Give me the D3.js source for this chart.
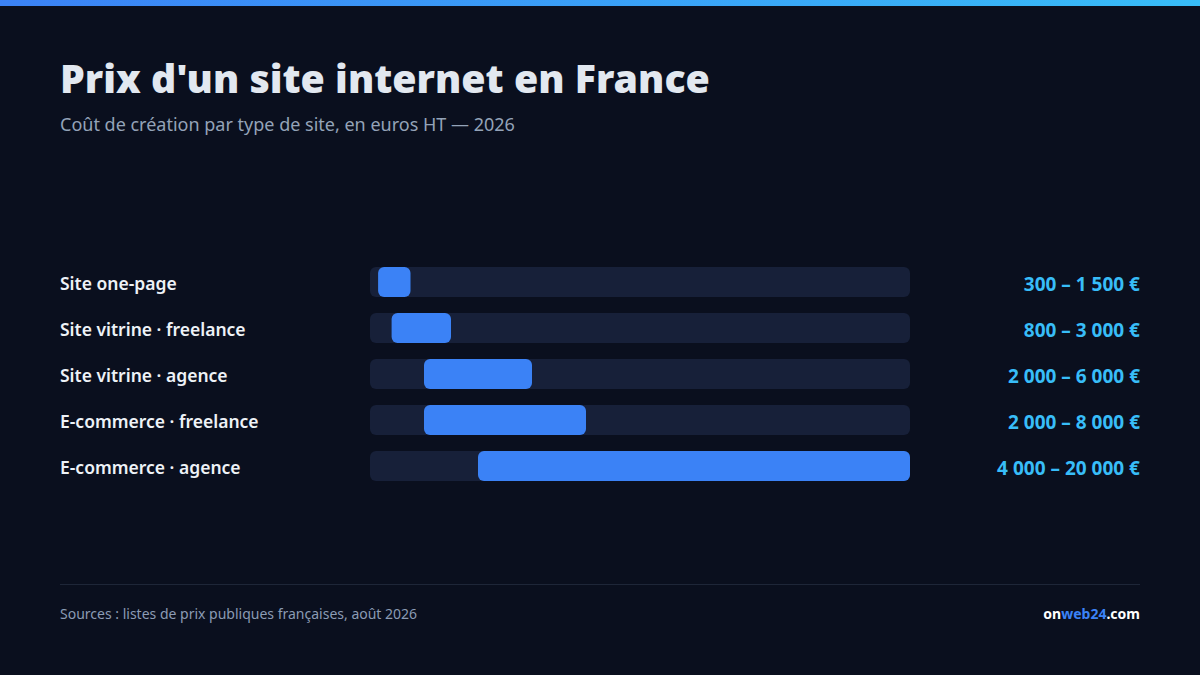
<!DOCTYPE html>
<html><head><meta charset="utf-8">
<script src="https://cdn.jsdelivr.net/npm/d3@7/dist/d3.min.js"></script>
<style>
html,body{margin:0;padding:0;background:#0a0f1e;}
svg{display:block;}
</style></head>
<body>
<svg id="c" width="1200" height="675"></svg>
<script>
const categories = ["Site one-page","Site vitrine · freelance","Site vitrine · agence","E-commerce · freelance","E-commerce · agence"];
const minValues = [300, 800, 2000, 2000, 4000];
const maxValues = [1500, 3000, 6000, 8000, 20000];
const valueLabels = ["300 – 1 500 €","800 – 3 000 €","2 000 – 6 000 €","2 000 – 8 000 €","4 000 – 20 000 €"];
const domainMax = 20000;

const FONT = "'Noto Sans', 'Open Sans', sans-serif";
const svg = d3.select("#c");
const W = 1200, H = 675;

const defs = svg.append("defs");
const g = defs.append("linearGradient").attr("id","topg").attr("x1","0").attr("x2","1");
g.append("stop").attr("offset","0").attr("stop-color","#3b82f6");
g.append("stop").attr("offset","1").attr("stop-color","#38bdf8");

svg.append("rect").attr("width",W).attr("height",H).attr("fill","#0a0f1e");
svg.append("rect").attr("width",W).attr("height",6).attr("fill","url(#topg)");

svg.append("text").attr("x",60).attr("y",93).attr("fill","#e2e8f0")
  .style("font-family",FONT).style("font-weight",900).style("font-size","39.3px")
  .text("Prix d'un site internet en France");
svg.append("text").attr("x",60).attr("y",131).attr("fill","#94a3b8")
  .style("font-family",FONT).style("font-size","18px")
  .text("Coût de création par type de site, en euros HT — 2026");

const x = d3.scaleLinear().domain([0, domainMax]).range([370, 910]);
const step = 46, bh = 30;
const y = d3.scalePoint().domain(categories).range([267, 267 + step*(categories.length-1)]);

const rows = svg.append("g").selectAll("g").data(categories).join("g");
rows.append("rect").attr("x",x(0)).attr("y",d=>y(d)).attr("width",x(domainMax)-x(0)).attr("height",bh)
  .attr("rx",6).attr("fill","#172039");
rows.append("rect").attr("x",(d,i)=>x(minValues[i])).attr("y",d=>y(d))
  .attr("width",(d,i)=>x(maxValues[i])-x(minValues[i])).attr("height",bh)
  .attr("rx",6).attr("fill","#3b82f6");
rows.append("text").attr("x",60).attr("y",d=>y(d)+bh/2+2).attr("dy","0.35em")
  .attr("fill","#eef2f7").style("font-family",FONT).style("font-weight",600).style("font-size","17.5px")
  .text(d=>d);
rows.append("text").attr("x",1140).attr("y",d=>y(d)+bh/2+2).attr("dy","0.35em").attr("text-anchor","end")
  .attr("fill","#38bdf8").style("font-family",FONT).style("font-weight",700).style("font-size","19px")
  .text((d,i)=>valueLabels[i]);

svg.append("line").attr("x1",60).attr("x2",1140).attr("y1",584.5).attr("y2",584.5).attr("stroke","#1e2638").attr("stroke-width",1);
svg.append("text").attr("x",60).attr("y",619).attr("fill","#8b9bb4")
  .style("font-family",FONT).style("font-size","14px")
  .text("Sources : listes de prix publiques françaises, août 2026");
const brand = svg.append("text").attr("x",1140).attr("y",619).attr("text-anchor","end")
  .style("font-family",FONT).style("font-weight",700).style("font-size","14px");
brand.append("tspan").attr("fill","#ffffff").text("on");
brand.append("tspan").attr("fill","#3b82f6").text("web24");
brand.append("tspan").attr("fill","#ffffff").text(".com");
</script>
</body></html>
